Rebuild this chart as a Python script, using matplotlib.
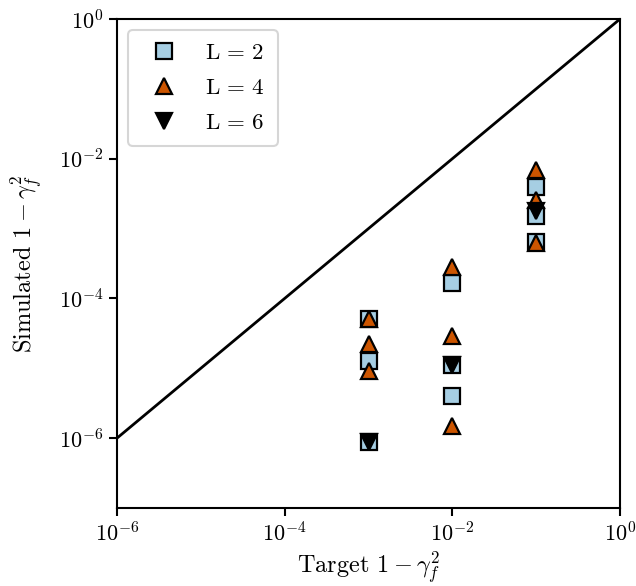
import matplotlib
matplotlib.use("Agg")
import matplotlib.pyplot as plt
import numpy as np

plt.rcParams['font.family'] = 'serif'
plt.rcParams['font.serif'] = ['cmr10']
plt.rcParams['mathtext.fontset'] = 'cm'
plt.rcParams['axes.formatter.use_mathtext'] = True

# Data
target_L2 = [1e-3, 1e-3, 1e-3, 1e-2, 1e-2, 1e-2, 1e-1, 1e-1, 1e-1]
sim_L2 = [5.1e-5, 1.27e-5, 8.9e-7, 1.65e-4, 1.1e-5, 4.0e-6, 4.0e-3, 1.5e-3, 6.4e-4]

target_L4 = [1e-3, 1e-3, 1e-3, 1e-2, 1e-2, 1e-2, 1e-1, 1e-1, 1e-1]
sim_L4 = [5.0e-5, 2.2e-5, 9.1e-6, 2.8e-4, 2.9e-5, 1.5e-6, 7.0e-3, 2.6e-3, 6.2e-4]

target_L6 = [1e-3, 1e-2, 1e-1]
sim_L6 = [8.9e-7, 1.1e-5, 1.8e-3]

labels = [r'$\mathrm{L}\,=\,2$', r'$\mathrm{L}\,=\,4$', r'$\mathrm{L}\,=\,6$']
diag = [1e-6, 1e0]

fig = plt.figure(figsize=(6.36, 5.86), dpi=100)
ax = fig.add_axes([117/636, 1-508/586, 503/636, 489/586])

ax.plot(diag, diag, color='black', lw=2.0, zorder=1)
ms = 11.5
ax.plot(target_L2, sim_L2, 's', color='#a6cee3', mec='black', mew=1.6, ms=ms, label=labels[0], zorder=3)
ax.plot(target_L4, sim_L4, '^', color='#cc5500', mec='black', mew=1.6, ms=ms, label=labels[1], zorder=4)
ax.plot(target_L6, sim_L6, 'v', color='black', mec='black', mew=1.6, ms=ms, label=labels[2], zorder=5)

ax.set_xscale('log')
ax.set_yscale('log')
ax.set_xlim(1e-6, 1e0)
ax.set_ylim(1e-7, 1e0)
ax.set_xticks([1e-6, 1e-4, 1e-2, 1e0])
ax.set_yticks([1e-6, 1e-4, 1e-2, 1e0])
ax.minorticks_off()
ax.tick_params(labelsize=16, width=1.5, length=6)
for s in ax.spines.values():
    s.set_linewidth(1.5)

ax.set_xlabel(r'Target $1-\gamma_f^2$', fontsize=17.5, labelpad=3)
ax.set_ylabel(r'Simulated $1-\gamma_f^2$', fontsize=17.5, labelpad=10)

leg = ax.legend(loc='upper left', fontsize=16.5, frameon=True, fancybox=True,
                borderpad=0.55, handletextpad=0.8, labelspacing=0.65,
                borderaxespad=0.5)
leg.get_frame().set_edgecolor('#cccccc')
leg.get_frame().set_linewidth(1.5)

fig.savefig('out.png', dpi=100)
